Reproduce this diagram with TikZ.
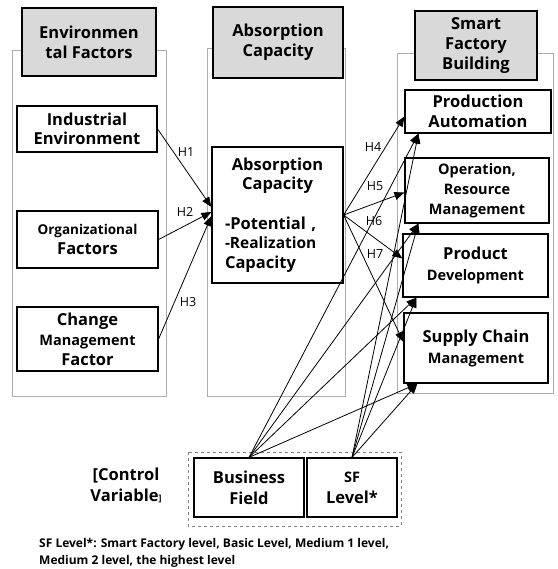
\documentclass[tikz,border=0pt]{standalone}
\usepackage{fontspec}
\setmainfont{Open Sans}
\usetikzlibrary{arrows.meta}

\newcommand{\boxfont}{\fontsize{16.5}{19.5}\selectfont}
\newcommand{\subfont}{\fontsize{14.5}{20}\selectfont}

\begin{document}
\begin{tikzpicture}[x=1pt, y=-1pt,
  frame/.style={draw=gray!65, line width=0.8pt, inner sep=0pt},
  head/.style={draw, fill=gray!30, line width=1.2pt, inner sep=0pt, align=center, font=\bfseries\boxfont},
  box/.style={draw, fill=white, line width=1.2pt, inner sep=0pt, align=center, font=\bfseries\boxfont},
  hyp/.style={inner sep=1pt, font=\fontsize{12.5}{14}\selectfont},
  arr/.style={line width=0.8pt, -{Triangle[length=10pt,width=8pt]}}]
  \useasboundingbox (0,0) rectangle (557,569);

  % three columns
  \node[frame, minimum width=154pt, minimum height=346pt] (E) at (89,223) {};
  \node[frame, minimum width=138pt, minimum height=348pt] (A) at (276,222) {};
  \node[frame, minimum width=156pt, minimum height=340pt] (S) at (475,223) {};

  \node[head, minimum width=134pt, minimum height=68pt, font=\bfseries\fontsize{16.5}{20}\selectfont] (EH) at (89,42) {Environmen\\tal Factors};
  \node[head, minimum width=130pt, minimum height=71pt, font=\bfseries\fontsize{16.5}{20}\selectfont] (AH) at (278,42.5) {Absorption\\Capacity};
  \node[head, minimum width=122pt, minimum height=69pt, font=\bfseries\fontsize{16.5}{20}\selectfont] (SH) at (476,45.5) {Smart\\Factory\\Building};

  % environmental factors
  \node[box, minimum width=140pt, minimum height=46pt] (IE) at (87,129) {Industrial\\Environment};
  \node[box, minimum width=141pt, minimum height=57pt] (OF) at (87.5,239.5) {{\fontsize{13.5}{19}\selectfont Organizational}\\Factors};
  \node[box, minimum width=141pt, minimum height=64pt, font=\bfseries\fontsize{16.5}{20}\selectfont] (CM) at (87.5,339) {Change\\{\subfont Management}\\Factor};

  % absorption capacity
  \node[box, minimum width=131pt, minimum height=136pt, text width=105pt, align=left] (AC) at (277.5,215)
    {{\centering Absorption\\Capacity\par}\vspace{20pt}-Potential ,\\{\fontsize{15.5}{20}\selectfont -Realization}\\Capacity};

  % smart factory building
  \node[box, minimum width=146pt, minimum height=43pt] (PA) at (478,111.5) {Production\\Automation};
  \node[box, minimum width=144pt, minimum height=65pt, font=\bfseries\fontsize{14.5}{20}\selectfont] (ORM) at (477,190.5) {Operation,\\Resource\\Management};
  \node[box, minimum width=145pt, minimum height=63pt, font=\bfseries\fontsize{16.5}{21}\selectfont] (PD) at (475.5,265.5) {Product\\{\subfont Development}};
  \node[box, minimum width=144pt, minimum height=70pt, font=\bfseries\fontsize{16.5}{21}\selectfont] (SCM) at (476,348) {Supply Chain\\{\subfont Management}};

  % control variables
  \draw[gray, dashed, line width=0.6pt] (188,452) rectangle (401,526);
  \node[box, minimum width=110pt, minimum height=59pt, font=\bfseries\fontsize{16.5}{21}\selectfont] (BF) at (249,487.5) {Business\\Field};
  \node[box, minimum width=90pt, minimum height=59pt, font=\bfseries\fontsize{16.5}{21}\selectfont] (SL) at (352,487.5) {{\subfont SF}\\Level*};
  \node[align=center, font=\bfseries\fontsize{16.5}{21}\selectfont] (CV) at (126,485) {[Control\\Variable{\small]}};

  % hypotheses
  \draw[arr] (IE.east) -- ([yshift=8pt]AC.west);
  \draw[arr] (OF.east) -- ([yshift=3pt]AC.west);
  \draw[arr] (CM.east) -- ([yshift=-1pt]AC.west);
  \draw[arr] (AC.east) -- ([yshift=-5pt]PA.west);
  \draw[arr] (AC.east) -- ([yshift=-2pt]ORM.west);
  \draw[arr] (AC.east) -- ([yshift=7pt]PD.west);
  \draw[arr] (AC.east) -- ([yshift=6pt]SCM.west);

  \node[hyp] (H1) at (186,152) {H1};
  \node[hyp] (H2) at (185,212) {H2};
  \node[hyp] (H3) at (188,302) {H3};
  \node[hyp] (H4) at (373,147) {H4};
  \node[hyp] (H5) at (375,186) {H5};
  \node[hyp] (H6) at (374,221) {H6};
  \node[hyp] (H7) at (375,254) {H7};

  % control paths
  \foreach \t in {PA, ORM, PD, SCM} {
    \draw[arr] (BF.north) -- ([xshift=14pt]\t.south west);
    \draw[arr] (SL.north) -- ([xshift=14pt]\t.south west);
  }

  \node[anchor=north west, align=left, inner sep=0pt, font=\bfseries\fontsize{12}{17}\selectfont] (N) at (39,538)
    {SF Level*: Smart Factory level, Basic Level, Medium 1 level,\\Medium 2 level, the highest level};
\end{tikzpicture}
\end{document}
